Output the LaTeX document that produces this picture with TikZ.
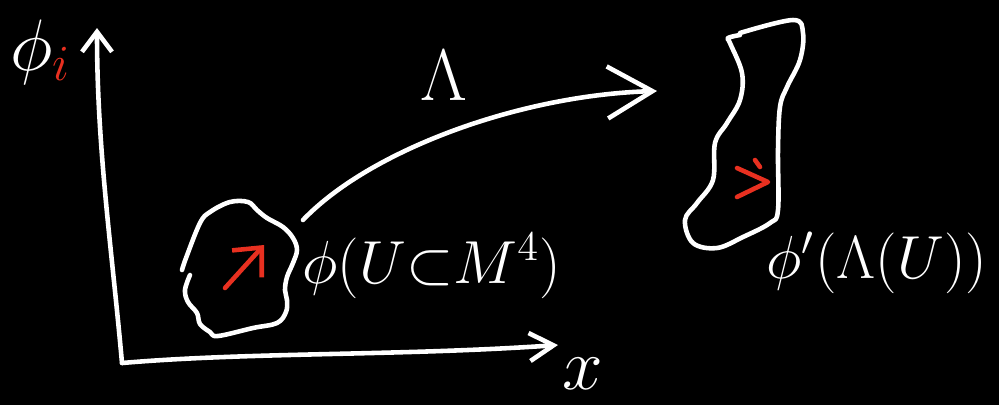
\documentclass[tikz,border=0pt]{standalone}
\usetikzlibrary{arrows.meta}
\definecolor{penred}{RGB}{232,48,32}
\begin{document}
\begin{tikzpicture}[x=0.01cm,y=-0.01cm,
  every node/.style={text=white,inner sep=0pt},
  pen/.style={white,line width=1.3pt,line cap=round,line join=round},
  redpen/.style={penred,line width=1.3pt,line cap=round,line join=round}]
  \fill[black] (0,0) rectangle (999,405);
  % axes
  \coordinate (O) at (122,363);
  \coordinate (ytop) at (97,28);
  \coordinate (xend) at (558,345);
  \draw[pen,-{Straight Barb[length=2mm,width=3mm]}] (O) .. controls (112,250) and (97,150) .. (ytop);
  \draw[pen,-{Straight Barb[length=2.4mm,width=2.8mm]}] (O) .. controls (250,352) and (400,356) .. (xend);
  \node[font=\huge,anchor=base west] (phii) at (10,70) {$\phi_{\color{penred}i}$};
  \node[font=\huge] (xlab) at (583,374) {$x$};
  % region U
  \draw[pen] plot[smooth,tension=0.6] coordinates {(190,275) (185,290) (188,302) (197,313) (200,324) (210,332) (218,336) (253,328) (277,323) (286,312) (287,300) (285,290) (287,277) (293,263) (297,250) (293,238) (283,227) (267,218) (257,210) (248,202) (230,202) (210,212) (200,223) (186,258) (182,270)};
  \coordinate (v1) at (225,288);
  \coordinate (v1h) at (264,245);
  \draw[redpen,-{Straight Barb[length=2.2mm,width=4mm]}] (v1) -- (v1h);
  \node[font=\LARGE,anchor=base west] (imgU) at (302,283) {$\phi(U{\subset}M^4)$};
  % map Lambda
  \coordinate (lamfrom) at (303,220);
  \coordinate (lamto) at (657,91);
  \draw[pen,-{Straight Barb[length=4.5mm,width=5.2mm]}] (lamfrom) .. controls (370,150) and (520,95) .. (lamto);
  \node[font=\huge,anchor=base west] (lam) at (420,100) {$\Lambda$};
  % transformed region
  \draw[pen] plot[smooth,tension=0.6] coordinates {(740,35) (728,38) (730,43) (742,73) (740,100) (727,123) (715,143) (713,180) (697,203) (685,220) (693,243) (717,248) (743,237) (770,223) (778,210) (778,150) (780,107) (787,87) (800,60) (803,33) (793,20) (740,33)};
  \draw[redpen] (737,168) -- (768,182) -- (737,197);
  \draw[redpen] (755,160) -- (760,167);
  \node[font=\LARGE,anchor=base west] (imgL) at (766,278) {$\phi'(\Lambda(U))$};
\end{tikzpicture}
\end{document}
